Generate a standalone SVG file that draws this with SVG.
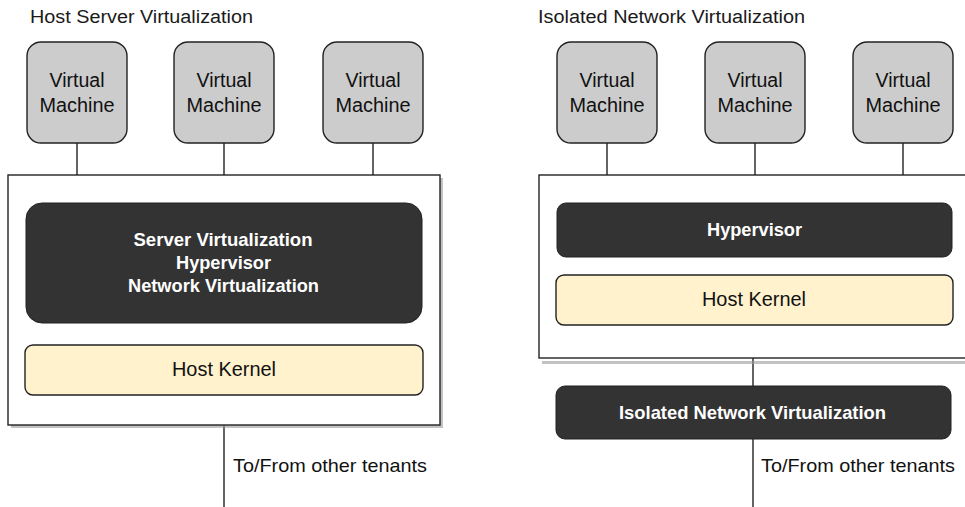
<svg xmlns="http://www.w3.org/2000/svg" width="965" height="507" viewBox="0 0 965 507">
<defs>
<style>
text{font-family:"Liberation Sans",Arial,sans-serif;}
.title{font-size:18px;fill:#1a1a1a;}
.vm rect{fill:#cccccc;stroke:#222;stroke-width:1.4;}
.vm text{font-size:19.5px;fill:#111;text-anchor:middle;}
.cont{fill:#fff;stroke:#222;stroke-width:1.4;}
.shadow{fill:#999;opacity:0.6;}
.dark rect{fill:#333333;stroke:#222;stroke-width:1;}
.dark text{font-size:19px;fill:#fff;text-anchor:middle;font-weight:bold;}
.kern rect{fill:#fff2cc;stroke:#222;stroke-width:1.4;}
.kern text{font-size:20px;fill:#111;text-anchor:middle;}
.conn line{stroke:#222;stroke-width:1.4;}
.lbl{font-size:19px;fill:#111;}
</style>
</defs>
<rect width="965" height="507" fill="#fff"/>
<text class="title" x="30" y="23" textLength="223" lengthAdjust="spacingAndGlyphs">Host Server Virtualization</text>
<text class="title" x="538" y="23" textLength="267" lengthAdjust="spacingAndGlyphs">Isolated Network Virtualization</text>

<g id="connectors" class="conn">
<line x1="77" y1="143" x2="77" y2="175"/>
<line x1="224" y1="143" x2="224" y2="175"/>
<line x1="373" y1="143" x2="373" y2="175"/>
<line x1="224" y1="425" x2="224" y2="507"/>
<line x1="607" y1="143" x2="607" y2="175"/>
<line x1="755" y1="143" x2="755" y2="175"/>
<line x1="903" y1="143" x2="903" y2="175"/>
<line x1="753" y1="358" x2="753" y2="386"/>
<line x1="753" y1="439" x2="753" y2="507"/>
</g>

<g id="vm-l1" class="vm"><rect x="27" y="42" width="100" height="101" rx="14"/><text x="77" y="87" textLength="55" lengthAdjust="spacingAndGlyphs">Virtual</text><text x="77" y="111.5" textLength="75" lengthAdjust="spacingAndGlyphs">Machine</text></g>
<g id="vm-l2" class="vm"><rect x="174" y="42" width="100" height="101" rx="14"/><text x="224" y="87" textLength="55" lengthAdjust="spacingAndGlyphs">Virtual</text><text x="224" y="111.5" textLength="75" lengthAdjust="spacingAndGlyphs">Machine</text></g>
<g id="vm-l3" class="vm"><rect x="323" y="42" width="100" height="101" rx="14"/><text x="373" y="87" textLength="55" lengthAdjust="spacingAndGlyphs">Virtual</text><text x="373" y="111.5" textLength="75" lengthAdjust="spacingAndGlyphs">Machine</text></g>

<g id="host-left">
<rect class="shadow" x="11" y="178" width="432" height="250"/>
<rect class="cont" x="8" y="175" width="432" height="250"/>
</g>
<g id="hyp-left" class="dark"><rect x="26" y="203" width="396" height="120" rx="16"/>
<text x="223" y="246" textLength="179" lengthAdjust="spacingAndGlyphs">Server Virtualization</text><text x="223.5" y="269" textLength="95" lengthAdjust="spacingAndGlyphs">Hypervisor</text><text x="223.5" y="292" textLength="191" lengthAdjust="spacingAndGlyphs">Network Virtualization</text></g>
<g id="kernel-left" class="kern"><rect x="25" y="345" width="398" height="50" rx="8"/><text x="224" y="375.5" textLength="104" lengthAdjust="spacingAndGlyphs">Host Kernel</text></g>
<text class="lbl" x="233" y="471.5" textLength="194" lengthAdjust="spacingAndGlyphs">To/From other tenants</text>

<g id="vm-r1" class="vm"><rect x="557" y="42" width="100" height="101" rx="14"/><text x="607" y="87" textLength="55" lengthAdjust="spacingAndGlyphs">Virtual</text><text x="607" y="111.5" textLength="75" lengthAdjust="spacingAndGlyphs">Machine</text></g>
<g id="vm-r2" class="vm"><rect x="705" y="42" width="100" height="101" rx="14"/><text x="755" y="87" textLength="55" lengthAdjust="spacingAndGlyphs">Virtual</text><text x="755" y="111.5" textLength="75" lengthAdjust="spacingAndGlyphs">Machine</text></g>
<g id="vm-r3" class="vm"><rect x="853" y="42" width="100" height="101" rx="14"/><text x="903" y="87" textLength="55" lengthAdjust="spacingAndGlyphs">Virtual</text><text x="903" y="111.5" textLength="75" lengthAdjust="spacingAndGlyphs">Machine</text></g>

<g id="host-right">
<rect class="shadow" x="542" y="361" width="440" height="3"/>
<rect class="cont" x="539" y="175" width="440" height="183"/>
</g>
<g id="hyp-right" class="dark"><rect x="557" y="203" width="395" height="54" rx="9"/><text x="754.5" y="236" textLength="95" lengthAdjust="spacingAndGlyphs">Hypervisor</text></g>
<g id="kernel-right" class="kern"><rect x="556" y="275" width="397" height="50" rx="8"/><text x="754" y="305.5" textLength="104" lengthAdjust="spacingAndGlyphs">Host Kernel</text></g>
<g id="inv-right" class="dark"><rect x="556" y="386" width="395" height="53" rx="9"/><text x="752.5" y="418.5" textLength="267" lengthAdjust="spacingAndGlyphs">Isolated Network Virtualization</text></g>
<text class="lbl" x="761" y="471.5" textLength="194" lengthAdjust="spacingAndGlyphs">To/From other tenants</text>
</svg>
